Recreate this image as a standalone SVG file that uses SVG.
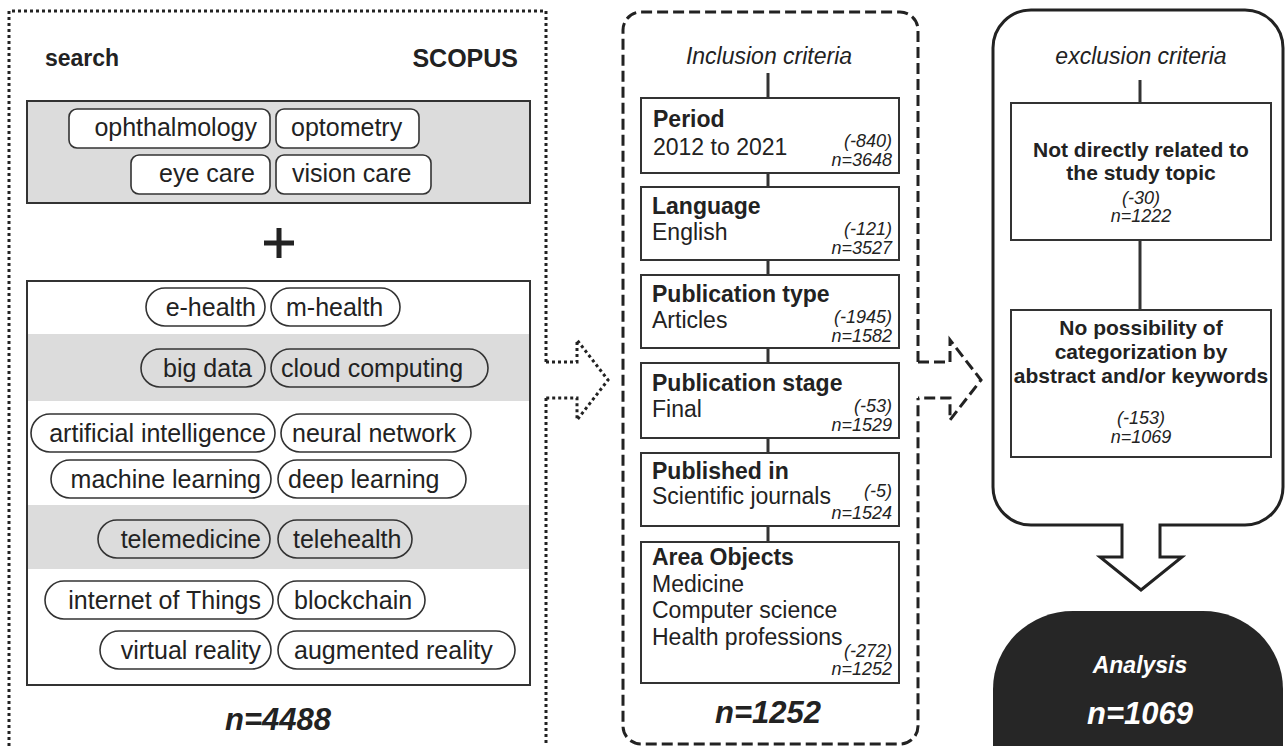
<svg xmlns="http://www.w3.org/2000/svg" width="1287" height="746" viewBox="0 0 1287 746">
<style>
text{font-family:"Liberation Sans",Arial,Helvetica,sans-serif;fill:#222}
.kw{font-size:25px}
.e{text-anchor:end}
.hd{font-size:23px;font-weight:bold}
.tx{font-size:23px}
.nm{font-size:18px;font-style:italic;text-anchor:end}
.big{font-size:31px;font-weight:bold;font-style:italic;text-anchor:middle}
.crit{font-size:23px;font-style:italic;text-anchor:middle}
.ex{font-size:21px;font-weight:bold;text-anchor:middle}
.exn{font-size:18px;font-style:italic;text-anchor:middle}
.pw{fill:#fff;stroke:#333;stroke-width:1.6}
.pn{fill:none;stroke:#333;stroke-width:1.6}
.box{fill:#fff;stroke:#333;stroke-width:2}
.gbox{fill:#dcdcdc;stroke:#333;stroke-width:2}
.grey{fill:#dcdcdc}
.dot{fill:none;stroke:#222;stroke-width:3;stroke-dasharray:3 3}
.dash{fill:none;stroke:#222;stroke-width:3;stroke-dasharray:11 5}
.solid{fill:none;stroke:#222;stroke-width:3;stroke-linejoin:miter}
.ln{stroke:#333;stroke-width:3}
</style>

<g id="search-panel">
  <path class="dot" d="M546,362 V11 H9 V760"/>
  <path class="dot" d="M546,398 V760"/>
  <text x="45" y="66" style="font-size:23px;font-weight:bold">search</text>
  <text x="518" y="67" class="e" style="font-size:25px;font-weight:bold">SCOPUS</text>
</g>

<g id="eye-terms">
  <rect class="gbox" x="27" y="101" width="503" height="102"/>
  <rect class="pw" x="69" y="109" width="201" height="39" rx="8"/>
  <text class="kw e" x="257" y="136">ophthalmology</text>
  <rect class="pw" x="276" y="109" width="143" height="39" rx="8"/>
  <text class="kw" x="291" y="136">optometry</text>
  <rect class="pw" x="131" y="155" width="139" height="39" rx="8"/>
  <text class="kw e" x="255" y="182">eye care</text>
  <rect class="pw" x="276" y="155" width="155" height="39" rx="8"/>
  <text class="kw" x="292" y="182">vision care</text>
</g>

<g id="plus">
  <path d="M264,243 H294 M279,228 V258" stroke="#222" stroke-width="5" fill="none"/>
</g>

<g id="tech-terms">
  <rect class="box" x="27" y="281" width="503" height="404"/>
  <rect class="grey" x="28" y="334" width="501" height="67"/>
  <rect class="grey" x="28" y="505" width="501" height="64"/>
  <rect class="pn" x="146" y="288" width="119" height="38" rx="19"/>
  <text class="kw e" x="256" y="316">e-health</text>
  <rect class="pn" x="271" y="288" width="129" height="38" rx="19"/>
  <text class="kw" x="286" y="316">m-health</text>
  <rect class="pn" x="141" y="349" width="124" height="38" rx="19"/>
  <text class="kw e" x="252" y="377">big data</text>
  <rect class="pn" x="271" y="349" width="217" height="38" rx="19"/>
  <text class="kw" x="281" y="377">cloud computing</text>
  <rect class="pn" x="31" y="414" width="244" height="38" rx="19"/>
  <text class="kw e" x="266" y="442">artificial intelligence</text>
  <rect class="pn" x="281" y="414" width="190" height="38" rx="19"/>
  <text class="kw" x="292" y="442">neural network</text>
  <rect class="pn" x="51" y="460" width="220" height="38" rx="19"/>
  <text class="kw e" x="261" y="488">machine learning</text>
  <rect class="pn" x="278" y="460" width="188" height="38" rx="19"/>
  <text class="kw" x="288" y="488">deep learning</text>
  <rect class="pn" x="98" y="520" width="172" height="38" rx="19"/>
  <text class="kw e" x="261" y="548">telemedicine</text>
  <rect class="pn" x="278" y="520" width="134" height="38" rx="19"/>
  <text class="kw" x="293" y="548">telehealth</text>
  <rect class="pn" x="45" y="581" width="228" height="38" rx="19"/>
  <text class="kw e" x="261" y="609">internet of Things</text>
  <rect class="pn" x="278" y="581" width="147" height="38" rx="19"/>
  <text class="kw" x="294" y="609">blockchain</text>
  <rect class="pn" x="100" y="631" width="171" height="38" rx="19"/>
  <text class="kw e" x="261" y="659">virtual reality</text>
  <rect class="pn" x="278" y="631" width="237" height="38" rx="19"/>
  <text class="kw" x="294" y="659">augmented reality</text>
  <text class="big" x="278" y="730">n=4488</text>
</g>

<g id="inclusion-panel">
  <path class="dash" d="M918,362 V30 A18,18 0 0 0 900,12 H641 A18,18 0 0 0 623,30 V726 A18,18 0 0 0 641,744 H900 A18,18 0 0 0 918,726 V398"/>
  <text class="crit" x="769" y="64">Inclusion criteria</text>
  <text class="big" x="768" y="723">n=1252</text>
</g>

<g id="period">
  <rect class="box" x="641" y="98" width="258" height="75"/>
  <text class="hd" x="653" y="127">Period</text>
  <text class="tx" x="653" y="155">2012 to 2021</text>
  <text class="nm" x="892" y="147">(-840)</text>
  <text class="nm" x="892" y="166">n=3648</text>
</g>
<g id="language">
  <rect class="box" x="641" y="187" width="258" height="73"/>
  <text class="hd" x="652" y="214">Language</text>
  <text class="tx" x="652" y="240">English</text>
  <text class="nm" x="892" y="235">(-121)</text>
  <text class="nm" x="892" y="254">n=3527</text>
</g>
<g id="publication-type">
  <rect class="box" x="641" y="275" width="258" height="73"/>
  <text class="hd" x="652" y="302">Publication type</text>
  <text class="tx" x="652" y="328">Articles</text>
  <text class="nm" x="892" y="323">(-1945)</text>
  <text class="nm" x="892" y="342">n=1582</text>
</g>
<g id="publication-stage">
  <rect class="box" x="641" y="363" width="258" height="75"/>
  <text class="hd" x="652" y="391">Publication stage</text>
  <text class="tx" x="652" y="417">Final</text>
  <text class="nm" x="892" y="412">(-53)</text>
  <text class="nm" x="892" y="431">n=1529</text>
</g>
<g id="published-in">
  <rect class="box" x="641" y="453" width="258" height="73"/>
  <text class="hd" x="652" y="479">Published in</text>
  <text class="tx" x="652" y="504">Scientific journals</text>
  <text class="nm" x="892" y="497">(-5)</text>
  <text class="nm" x="892" y="519">n=1524</text>
</g>
<g id="area-objects">
  <rect class="box" x="641" y="542" width="258" height="141"/>
  <text class="hd" x="652" y="565">Area Objects</text>
  <text class="tx" x="652" y="592">Medicine</text>
  <text class="tx" x="652" y="618">Computer science</text>
  <text class="tx" x="652" y="645">Health professions</text>
  <text class="nm" x="892" y="657">(-272)</text>
  <text class="nm" x="892" y="675">n=1252</text>
</g>

<g id="exclusion-panel">
  <path class="solid" d="M1122,525 H1031 A38,38 0 0 1 993,487 V48 A38,38 0 0 1 1031,10 H1245 A38,38 0 0 1 1283,48 V487 A38,38 0 0 1 1245,525 H1160 V557 H1182 L1141,590 L1100,557 H1122 Z"/>
  <text class="crit" x="1141" y="64">exclusion criteria</text>
</g>
<g id="not-related">
  <rect class="box" x="1011" y="103" width="260" height="137"/>
  <text class="ex" x="1141" y="157">Not directly related to</text>
  <text class="ex" x="1141" y="180">the study topic</text>
  <text class="exn" x="1141" y="204">(-30)</text>
  <text class="exn" x="1141" y="222">n=1222</text>
</g>
<g id="no-categorization">
  <rect class="box" x="1011" y="310" width="260" height="147"/>
  <text class="ex" x="1141" y="335">No possibility of</text>
  <text class="ex" x="1141" y="359">categorization by</text>
  <text class="ex" x="1141" y="383">abstract and/or keywords</text>
  <text class="exn" x="1141" y="424">(-153)</text>
  <text class="exn" x="1141" y="443">n=1069</text>
</g>

<g id="analysis">
  <rect x="993" y="611" width="290" height="220" rx="80" ry="78" fill="#262626"/>
  <text x="1140" y="673" style="font-size:23px;font-weight:bold;font-style:italic;text-anchor:middle;fill:#fff">Analysis</text>
  <text class="big" x="1140" y="724" style="fill:#fff">n=1069</text>
</g>

<g id="connectors">
  <path class="dot" d="M546,362 H577 V340 L608,380 L577,420 V398 H546"/>
  <path class="dash" d="M918,362 H950 V340 L981,380 L950,420 V398 H918"/>
  <line class="ln" x1="768" y1="73" x2="768" y2="98"/>
  <line class="ln" x1="768" y1="173" x2="768" y2="187"/>
  <line class="ln" x1="768" y1="260" x2="768" y2="275"/>
  <line class="ln" x1="768" y1="348" x2="768" y2="363"/>
  <line class="ln" x1="768" y1="438" x2="768" y2="453"/>
  <line class="ln" x1="768" y1="526" x2="768" y2="542"/>
  <line class="ln" x1="1140" y1="80" x2="1140" y2="103"/>
  <line class="ln" x1="1140" y1="240" x2="1140" y2="310"/>
</g>
</svg>
